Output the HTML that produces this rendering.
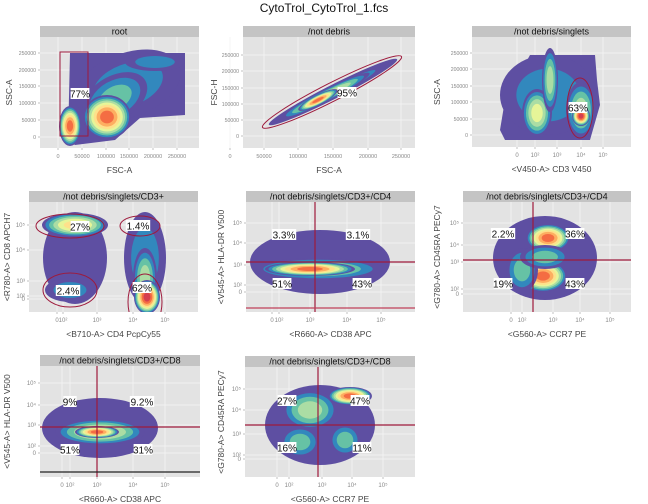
<!DOCTYPE html>
<html><head><meta charset="utf-8"><style>
html,body{margin:0;padding:0;background:#fff;}
svg{display:block;font-family:"Liberation Sans",sans-serif;}
</style></head><body>
<svg id="c" width="648" height="504" viewBox="0 0 648 504">
<text x="324" y="12" text-anchor="middle" font-size="12" fill="#111">CytoTrol_CytoTrol_1.fcs</text>
</svg>
<script>
const NS="http://www.w3.org/2000/svg";
const svg=document.getElementById('c');
const pal=['#5e4fa2','#3288bd','#66c2a5','#abdda4','#e6f598','#fee08b','#fdae61','#f46d43','#d53e4f','#9e0142'];
const panelNames=['root','/not debris','/not debris/singlets','/not debris/singlets/CD3+','/not debris/singlets/CD3+/CD4','/not debris/singlets/CD3+/CD4','/not debris/singlets/CD3+/CD8','/not debris/singlets/CD3+/CD8'];
const xTitles=['FSC-A','FSC-A','<V450-A> CD3 V450','<B710-A> CD4 PcpCy55','<R660-A> CD38 APC','<G560-A> CCR7 PE','<R660-A> CD38 APC','<G560-A> CCR7 PE'];
const yTitles=['SSC-A','FSC-H','SSC-A','<R780-A> CD8 APCH7','<V545-A> HLA-DR V500','<G780-A> CD45RA PECy7','<V545-A> HLA-DR V500','<G780-A> CD45RA PECy7'];
const boxes=[[40,199,26,37,148],[243,415,26,37,148],[472,631,26,37,147],[29,198,191,202,312],[246,415,191,202,312],[463,631,191,202,312],[40,200,355,366,477],[245,415,356,367,477]];
const yTitleX=[12,217,440,10,224,440,10,224];
const linTicks=['0','50000','100000','150000','200000','250000'];
const logTicks=['0','10²','10³','10⁴','10⁵'];
const xTickPos=[[58,82,106,129,153,177],[230,264,298,333,368,401],[517,535,557,581,603],[57,63,97,133,165],[272,279,310,347,381],[511,522,553,580,610],[62,70,97,133,165],[277,289,322,352,383]];
const yTickPos=[[137,120,103,86,70,53],[136,120,104,88,71,55],[135,119,102,86,69,53],[299,296,281,250,225],[292,285,265,243,223],[294,289,262,245,223],[453,446,425,405,383],[459,455,434,410,389]];
// blobs: panel, cx, cy, rx, ry, level, angle
const blobs=[
[0,128,85,55,32,1,-20],[0,155,62,30,9,1,0],[0,115,98,35,22,2,-30],[0,107,117,24,22,7,0],[0,70,126,11,20,7,0],
[1,333,92,72,7,1,-27],[1,325,96,50,6,4,-27],[1,318,100,22,5,7,-27],
[2,548,95,48,40,1,0],[2,537,113,15,24,4,0],[2,550,80,8,32,3,0],[2,581,110,15,28,3,0],[2,581,116,9,10,8,0],
[3,75,258,32,46,0,0],[3,145,258,21,46,1,0],[3,75,225,33,12,5,0],[3,145,278,12,30,3,0],[3,147,297,13,17,8,0],[3,70,290,25,12,1,0],
[4,320,262,70,32,0,0],[4,318,269,65,11,3,0],[4,310,269,45,7,7,0],
[5,545,258,52,42,0,0],[5,548,238,22,14,7,0],[5,543,276,24,16,7,0],[5,522,270,16,22,2,0],[5,545,257,25,12,2,0],
[6,100,428,58,30,0,0],[6,100,432,45,13,4,0],[6,97,432,22,6,7,0],
[7,320,425,55,40,0,0],[7,310,410,28,20,3,0],[7,300,442,20,16,2,0],[7,350,396,22,9,7,0],[7,345,440,16,16,2,0]];
const gateEllipses=[[1,332,92,78,9,-27],[2,580,108,13,30,0],[3,70,226,34,12,0],[3,140,226,20,10,0],[3,70,290,27,17,0],[3,145,302,17,28,0]];
const gateRects=[[0,60,52,88,136]];
const vLines=[[4,315],[5,533],[6,97],[7,318]];
const hLines=[[4,262,'#9e1a3c'],[4,308,'#c0405a'],[5,260,'#9e1a3c'],[6,427,'#9e1a3c'],[6,472,'#222'],[7,425,'#9e1a3c']];
const pctLabels=[[0,80,94,'77%'],[1,347,93,'95%'],[2,578,108,'63%'],[3,80,227,'27%'],[3,138,226,'1.4%'],[3,68,291,'2.4%'],[3,142,288,'62%'],
[4,284,235,'3.3%'],[4,358,235,'3.1%'],[4,282,284,'51%'],[4,362,284,'43%'],
[5,503,234,'2.2%'],[5,575,234,'36%'],[5,503,284,'19%'],[5,575,284,'43%'],
[6,70,402,'9%'],[6,142,402,'9.2%'],[6,70,450,'51%'],[6,143,450,'31%'],
[7,287,401,'27%'],[7,360,401,'47%'],[7,287,448,'16%'],[7,362,448,'11%']];
function el(t,a,p){const e=document.createElementNS(NS,t);for(const k in a)e.setAttribute(k,a[k]);(p||svg).appendChild(e);return e;}
const groups=[];
boxes.forEach((b,i)=>{
  const [x0,x1,st,pt,pb]=b;
  const g=el('g',{});
  
  
  const cp=el('clipPath',{id:'cp'+i},g);el('rect',{x:x0,y:pt,width:x1-x0,height:pb-pt},cp);
  const bg=el('rect',{x:x0,y:pt,width:x1-x0,height:pb-pt,fill:'#e3e3e3'},g);
  
  
  const s=el('rect',{x:x0,y:st,width:x1-x0,height:pt-st,fill:'#c4c4c4'},g);
  
  
  const stt=el('text',{x:(x0+x1)/2,y:pt-2.5,'text-anchor':'middle','font-size':9,fill:'#111'},g);stt.textContent=panelNames[i];
  
  
  const lin=i<3;
  const xt=i<2?linTicks:logTicks, yt=lin?linTicks:logTicks;
  xTickPos[i].forEach((p,k)=>{
    el('line',{x1:p,x2:p,y1:pt,y2:pb,stroke:'#f4f4f4','stroke-width':0.8},g);
    el('line',{x1:p,x2:p,y1:pb,y2:pb+2,stroke:'#999','stroke-width':0.6},g);
    const t=el('text',{x:p,y:pb+10,'text-anchor':'middle','font-size':i<2?5.5:6,fill:'#888'},g);t.textContent=xt[k];
    
    
  });
  yTickPos[i].forEach((p,k)=>{
    el('line',{x1:x0,x2:x1,y1:p,y2:p,stroke:'#f4f4f4','stroke-width':0.8},g);
    el('line',{x1:x0-2,x2:x0,y1:p,y2:p,stroke:'#999','stroke-width':0.6},g);
    const t=el('text',{x:x0-4,y:p+2,'text-anchor':'end','font-size':lin?5.2:6,fill:'#888'},g);t.textContent=yt[k];
    
    
  });
  const xtl=el('text',{x:(x0+x1)/2,y:pb+25,'text-anchor':'middle','font-size':8.5,fill:'#444'},g);xtl.textContent=xTitles[i];
  
  
  const yc=(pt+pb)/2, yx=yTitleX[i];
  const ytl=el('text',{x:yx,y:yc,'text-anchor':'middle','font-size':8.5,fill:'#444',transform:`rotate(-90 ${yx} ${yc})`},g);ytl.textContent=yTitles[i];
  
  
  const dg=el('g',{'clip-path':`url(#cp${i})`},g);
  groups.push(dg);
});
const base=el('polygon',{points:'70,53 185,53 185,115 140,118 115,140 75,145 68,140',fill:pal[0]},groups[0]);


const base2=el('polygon',{points:'500,130 505,100 530,55 595,55 597,80 600,105 590,140 505,140',fill:pal[0]},groups[2]);


blobs.forEach(b=>{
  const [p,cx,cy,rx,ry,L,a]=b;
  const g=el('g',{transform:`rotate(${a} ${cx} ${cy})`},groups[p]);
  
  
  for(let k=0;k<=L;k++){const f=Math.pow(1-k/(L+1),0.6);el('ellipse',{cx,cy,rx:rx*f,ry:ry*f,fill:pal[k]},g);}
});
gateRects.forEach(r=>{const e=el('rect',{x:r[1],y:r[2],width:r[3]-r[1],height:r[4]-r[2],fill:'none',stroke:'#9e1a3c','stroke-width':1},groups[r[0]]);
  
  });
gateEllipses.forEach(r=>{const e=el('ellipse',{cx:r[1],cy:r[2],rx:r[3],ry:r[4],transform:`rotate(${r[5]} ${r[1]} ${r[2]})`,fill:'none',stroke:'#9e1a3c','stroke-width':1},groups[r[0]]);
  
  });
vLines.forEach(v=>{const b=boxes[v[0]];const e=el('line',{x1:v[1],x2:v[1],y1:b[3],y2:b[4],stroke:'#9e1a3c','stroke-width':1.2},groups[v[0]]);
  
  });
hLines.forEach(h=>{const b=boxes[h[0]];const e=el('line',{x1:b[0],x2:b[1],y1:h[1],y2:h[1],stroke:h[2],'stroke-width':1.2},groups[h[0]]);
  
  });
pctLabels.forEach(l=>{
  const g=el('g',{},groups[l[0]]);
  
  
  const w=l[3].length*5.6+2;
  el('rect',{x:l[1]-w/2,y:l[2]-6,width:w,height:11,fill:'#fff'},g);
  const t=el('text',{x:l[1],y:l[2]+3.5,'text-anchor':'middle','font-size':10,fill:'#111'},g);t.textContent=l[3];
});
</script>
</body></html>
